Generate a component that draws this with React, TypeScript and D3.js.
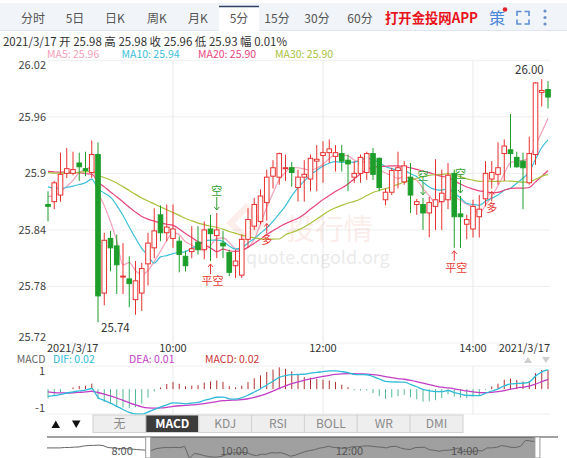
import React from "react";
import * as d3 from "d3";

// ---------- DATA ----------
const startHour = 8;
const startMinute = 20;
const stepMinutes = 5;

const opens = [
  25.867, 25.870, 25.877, 25.900, 25.900, 25.911, 25.905, 25.901, 25.920, 25.773,
  25.831, 25.823, 25.790, 25.788, 25.766, 25.773, 25.804, 25.821, 25.856, 25.837,
  25.831, 25.828, 25.812, 25.817, 25.827, 25.819, 25.841, 25.834, 25.826, 25.816,
  25.802, 25.792, 25.830, 25.844, 25.849, 25.869, 25.897, 25.896, 25.905, 25.906,
  25.885, 25.896, 25.894, 25.913, 25.919, 25.922, 25.918, 25.921, 25.914, 25.896,
  25.900, 25.901, 25.921, 25.916, 25.872, 25.880, 25.903, 25.891, 25.896, 25.867,
  25.867, 25.858, 25.865, 25.870, 25.872, 25.900, 25.857, 25.846, 25.841, 25.854,
  25.873, 25.894, 25.899, 25.921, 25.925, 25.917, 25.913, 25.890, 25.920, 25.986,
  25.989,
];
const highs = [
  25.881, 25.892, 25.922, 25.927, 25.923, 25.922, 25.923, 25.935, 25.933, 25.837,
  25.839, 25.835, 25.826, 25.812, 25.807, 25.805, 25.837, 25.863, 25.866, 25.867,
  25.867, 25.833, 25.818, 25.844, 25.844, 25.849, 25.856, 25.858, 25.839, 25.819,
  25.819, 25.835, 25.863, 25.874, 25.883, 25.904, 25.914, 25.922, 25.920, 25.912,
  25.904, 25.914, 25.920, 25.930, 25.934, 25.936, 25.930, 25.930, 25.920, 25.913,
  25.920, 25.923, 25.927, 25.917, 25.884, 25.906, 25.923, 25.913, 25.911, 25.873,
  25.874, 25.875, 25.915, 25.904, 25.911, 25.904, 25.876, 25.856, 25.872, 25.877,
  25.913, 25.913, 25.933, 25.936, 25.963, 25.923, 25.922, 25.939, 25.997, 26.000,
  25.998,
];
const lows = [
  25.849, 25.862, 25.870, 25.895, 25.898, 25.892, 25.897, 25.895, 25.742, 25.760,
  25.796, 25.772, 25.772, 25.758, 25.750, 25.754, 25.781, 25.810, 25.828, 25.828,
  25.821, 25.795, 25.796, 25.810, 25.814, 25.809, 25.807, 25.810, 25.810, 25.791,
  25.789, 25.789, 25.821, 25.840, 25.846, 25.850, 25.884, 25.888, 25.892, 25.886,
  25.870, 25.870, 25.881, 25.881, 25.890, 25.911, 25.902, 25.902, 25.881, 25.890,
  25.890, 25.893, 25.893, 25.881, 25.866, 25.877, 25.884, 25.888, 25.858, 25.856,
  25.840, 25.832, 25.840, 25.840, 25.862, 25.821, 25.821, 25.830, 25.832, 25.832,
  25.865, 25.884, 25.888, 25.892, 25.906, 25.906, 25.862, 25.888, 25.909, 25.971,
  25.969,
];
const closes = [
  25.865, 25.890, 25.899, 25.905, 25.904, 25.907, 25.903, 25.920, 25.770, 25.829,
  25.821, 25.803, 25.791, 25.783, 25.786, 25.799, 25.826, 25.839, 25.837, 25.843,
  25.841, 25.814, 25.802, 25.820, 25.819, 25.840, 25.836, 25.840, 25.823, 25.795,
  25.807, 25.830, 25.851, 25.867, 25.876, 25.896, 25.906, 25.921, 25.906, 25.901,
  25.896, 25.899, 25.916, 25.915, 25.922, 25.926, 25.922, 25.913, 25.910, 25.900,
  25.917, 25.921, 25.899, 25.885, 25.880, 25.903, 25.906, 25.908, 25.877, 25.870,
  25.858, 25.869, 25.872, 25.879, 25.898, 25.854, 25.854, 25.851, 25.865, 25.862,
  25.900, 25.901, 25.906, 25.929, 25.921, 25.907, 25.906, 25.921, 25.996, 25.988,
  25.981,
];
// closes before the visible window (used for MA / MACD warm-up and the navigator)
const prevCloses = [
  25.900, 25.905, 25.900, 25.895, 25.890, 25.892, 25.898, 25.900, 25.900, 25.900,
  25.900, 25.905, 25.905, 25.910, 25.912, 25.925, 25.930, 25.932, 25.935, 25.930,
  25.905, 25.900, 25.895, 25.890, 25.890, 25.885, 25.880, 25.875, 25.872,
];

const priceTicks = [26.02, 25.96, 25.9, 25.84, 25.78, 25.72];
const timeTicks = ["10:00", "12:00", "14:00"];
const navTicks = ["8:00", "10:00", "12:00", "14:00"];
const dateLabel = "2021/3/17";
const infoText = "2021/3/17 开 25.98 高 25.98 收 25.96 低 25.93 幅 0.01%";
const topTabs = ["分时", "5日", "日K", "周K", "月K", "5分", "15分", "30分", "60分"];
const selectedTopTab = "5分";
const indicatorTabs = ["无", "MACD", "KDJ", "RSI", "BOLL", "WR", "DMI"];
const selectedIndicator = "MACD";
const maPeriods = [5, 10, 20, 30];
const maLegendValues = ["25.96", "25.94", "25.90", "25.90"];
const macdLegendNames = ["DIF", "DEA", "MACD"];
const macdLegendValues = ["0.02", "0.01", "0.02"];
const macdTickValues = [0.0222, -0.0222];
const macdTickLabels = ["1", "-1"];
const signalIndex = [27, 26, 35, 60, 66, 65, 71];
const signalText = ["空", "平空", "多", "空", "空", "平空", "多"];

// ---------- STYLE ----------
const FONT = "'Noto Sans CJK SC', 'Noto Sans', sans-serif";
const UP = "#e8302e";
const DOWN = "#1d9e2a";
const MA_COLORS = ["#f4a0b8", "#3cc0d8", "#e8457e", "#a9c23c"];
const MACD_COLORS = ["#2fbad8", "#c23ec6", "#cc3333"];

function indexOfTime(t: string) {
  const [h, m] = t.split(":").map(Number);
  return (h * 60 + m - (startHour * 60 + startMinute)) / stepMinutes;
}

export default function App() {
  const W = 567, H = 458;
  const n = closes.length;
  const off = prevCloses.length;
  const all = prevCloses.concat(closes);

  const plotL = 48, plotR = 550;
  const x = d3.scaleLinear().domain([0, n - 1]).range([48, 548]);
  const y = d3.scaleLinear().domain([25.72, 26.02]).range([343, 60.3]);
  const mainTop = 60.3, mainBot = 343;
  const macdTop = 366, macdBot = 414;

  // moving averages
  const mas = maPeriods.map((p) =>
    closes.map((_, i) => d3.mean(all.slice(off + i - p + 1, off + i + 1)) as number)
  );
  const maLine = d3
    .line<number>()
    .x((_, i) => x(i))
    .y((v) => y(v))
    .curve(d3.curveMonotoneX);

  // MACD
  const dif: number[] = [];
  const dea: number[] = [];
  const hist: number[] = [];
  {
    let e12 = all[0], e26 = all[0], d = 0;
    all.forEach((c, i) => {
      e12 = e12 + (2 / 13) * (c - e12);
      e26 = e26 + (2 / 27) * (c - e26);
      const df = e12 - e26;
      d = d + (2 / 10) * (df - d);
      if (i >= off) {
        dif.push(df);
        dea.push(d);
        hist.push(2 * (df - d));
      }
    });
  }
  const my = d3.scaleLinear().domain([-0.0222, 0.0222]).range([408.3, 370]);
  const macdLine = d3
    .line<number>()
    .x((_, i) => x(i))
    .y((v) => my(v))
    .curve(d3.curveMonotoneX);

  // navigator
  const ovX = d3.scaleLinear().domain([0, n - 1]).range([151, 151 + (n - 1) * 4.8]);
  const ovY = d3.scaleLinear().domain([25.76, 26.0]).range([459, 440]);
  const ovLine = d3
    .line<number>()
    .x((_, i) => ovX(i - off))
    .y((v) => ovY(v));
  const selL = ovX(-0.5) - 0.4, selR = ovX(n - 0.5);

  const kMax = d3.maxIndex(highs);
  const kMin = d3.minIndex(lows);
  const bw = 4.6;

  const topTabX = [33, 75, 115, 157, 198, 239, 277, 317, 360];
  const indL = 93, indR = 463, indTop = 415, indBot = 432.5;
  const indW = (indR - indL) / indicatorTabs.length;

  return (
    <div style={{ position: "fixed", left: 0, top: 0, width: W, height: H, background: "#fff" }}>
      <svg width={W} height={H} style={{ display: "block", fontFamily: FONT }}>
        <defs>
          <clipPath id="navclip">
            <rect x={47} y={437} width={511} height={22} />
          </clipPath>
        </defs>
        {/* top tab bar */}
        <rect x={0} y={3} width={W} height={27} fill="#f1f4f8" />
        <line x1={0} x2={W} y1={30.5} y2={30.5} stroke="#e2e6ec" />
        {topTabs.map((t, i) =>
          t === selectedTopTab ? (
            <g key={t}>
              <rect x={topTabX[i] - 20} y={6} width={40} height={25} fill="#fff" />
              <line x1={topTabX[i] - 20} x2={topTabX[i] + 20} y1={6.5} y2={6.5} stroke="#2d3f63" strokeWidth={1.5} />
            </g>
          ) : null
        )}
        {topTabs.map((t, i) => (
          <text key={t} x={topTabX[i]} y={22.5} textAnchor="middle" fontSize={12} fill="#555">
            {t}
          </text>
        ))}
        <text x={385} y={23} fontSize={14} fontWeight="bold" fill="#e8141c" textLength={93} lengthAdjust="spacingAndGlyphs">
          打开金投网APP
        </text>
        <text x={497} y={24} textAnchor="middle" fontSize={16} fill="#4a86d8">策</text>
        <circle cx={505} cy={9.5} r={2.3} fill="#e0242c" />
        <g stroke="#5d8fd8" strokeWidth={1.6} fill="none">
          <path d="M517,16 V11.5 H521.5" />
          <path d="M524.5,11.5 H529 V16" />
          <path d="M529,19.5 V24 H524.5" />
          <path d="M521.5,24 H517 V19.5" />
        </g>
        {[11, 17.5, 24].map((cy) => (
          <circle key={cy} cx={545} cy={cy} r={1.6} fill="#6d90c8" />
        ))}

        {/* info line */}
        <text x={3} y={45.5} fontSize={11.5} fill="#333" textLength={284} lengthAdjust="spacingAndGlyphs">
          {infoText}
        </text>
        {maPeriods.map((p, i) => (
          <text key={p} x={[47, 121.5, 198, 275][i]} y={57.5} fontSize={10.5} fill={MA_COLORS[i]}>
            {`MA${p}: ${maLegendValues[i]}`}
          </text>
        ))}

        {/* grid */}
        {priceTicks.map((p) => (
          <line key={p} x1={plotL} x2={plotR} y1={y(p)} y2={y(p)} stroke="#eeeeee" />
        ))}
        {timeTicks.map((t) => (
          <g key={t}>
            <line x1={x(indexOfTime(t))} x2={x(indexOfTime(t))} y1={mainTop} y2={mainBot} stroke="#e8e8e8" />
            <line x1={x(indexOfTime(t))} x2={x(indexOfTime(t))} y1={macdTop} y2={macdBot} stroke="#e8e8e8" />
          </g>
        ))}
        <line x1={plotL} x2={plotR} y1={macdTop} y2={macdTop} stroke="#eeeeee" />
        <line x1={plotL} x2={plotR} y1={macdBot} y2={macdBot} stroke="#eeeeee" />

        {/* watermark */}
        <g opacity={0.1}>
          <path d="M246,203 L266,223 L246,243 L226,223 Z M246,212 L257,223 L246,234 L235,223 Z" fill="#d4553a" fillRule="evenodd" />
          <text x={286} y={240} fontSize={29} fill="#d4553a">投行情</text>
        </g>
        <text x={246} y={264} fontSize={18} fill="#000" opacity={0.08}>quote.cngold.org</text>

        {/* price labels */}
        {priceTicks.map((p, i) => (
          <text
            key={p}
            x={46}
            y={y(p) + (i === 0 ? 9 : i === priceTicks.length - 1 ? -2 : 4)}
            textAnchor="end"
            fontSize={11}
            fill="#444"
          >
            {String(p)}
          </text>
        ))}

        {/* MA lines */}
        {mas.map((m, i) => (
          <path key={i} d={maLine(m) || ""} fill="none" stroke={MA_COLORS[i]} strokeWidth={1.2} />
        ))}

        {/* candles */}
        {closes.map((c, k) => {
          const o = opens[k];
          const up = c >= o;
          const col = up ? UP : DOWN;
          const top = y(Math.max(o, c));
          const bot = y(Math.min(o, c));
          const h = Math.max(bot - top, 1);
          return (
            <g key={k}>
              <line x1={x(k)} x2={x(k)} y1={y(highs[k])} y2={y(lows[k])} stroke={col} strokeWidth={1} />
              <rect
                x={x(k) - bw / 2}
                y={top}
                width={bw}
                height={h}
                fill={up ? "#fff" : col}
                stroke={col}
                strokeWidth={1}
              />
            </g>
          );
        })}

        {/* signals */}
        {signalIndex.map((k, i) => {
          const t = signalText[i];
          const down = t === "空";
          const col = down ? "#33a033" : "#e53935";
          const cx = x(k);
          if (down) {
            const hy = y(highs[k]);
            return (
              <g key={i}>
                <line x1={cx} x2={cx} y1={hy - 16} y2={hy - 3} stroke={col} />
                <path d={`M${cx - 2.5},${hy - 6} L${cx},${hy - 3} L${cx + 2.5},${hy - 6}`} fill="none" stroke={col} />
                <text x={cx} y={hy - 18} textAnchor="middle" fontSize={11} fill={col}>{t}</text>
              </g>
            );
          }
          const ly = y(lows[k]);
          return (
            <g key={i}>
              <line x1={cx} x2={cx} y1={ly + 3} y2={ly + 13} stroke={col} />
              <path d={`M${cx - 2.5},${ly + 6} L${cx},${ly + 3} L${cx + 2.5},${ly + 6}`} fill="none" stroke={col} />
              <text x={cx + (t.length > 1 ? 2 : 0)} y={ly + 24} textAnchor="middle" fontSize={11} fill={col}>{t}</text>
            </g>
          );
        })}

        {/* extreme labels */}
        <text x={x(kMax) + 2} y={y(highs[kMax]) - 5} textAnchor="end" fontSize={11.5} fill="#333">
          {highs[kMax].toFixed(2)}
        </text>
        <text x={x(kMin) + 3} y={y(lows[kMin]) + 10} textAnchor="start" fontSize={11.5} fill="#333">
          {lows[kMin].toFixed(2)}
        </text>

        {/* time labels */}
        <text x={47} y={352} fontSize={11} fill="#333">{dateLabel}</text>
        {timeTicks.map((t) => (
          <text key={t} x={x(indexOfTime(t))} y={352} textAnchor="middle" fontSize={11} fill="#333">{t}</text>
        ))}
        <text x={550} y={352} textAnchor="end" fontSize={11} fill="#333">{dateLabel}</text>

        {/* MACD legend */}
        <text x={16.7} y={363} fontSize={10.5} fill="#666">MACD</text>
        {macdLegendNames.map((nm, i) => (
          <text key={nm} x={[53, 129, 205][i]} y={363} fontSize={10.5} fill={MACD_COLORS[i]}>
            {`${nm}: ${macdLegendValues[i]}`}
          </text>
        ))}
        <path d="M524,363 L528,357 L532,363 Z" fill="#cfcfcf" />
        <path d="M542,357 L550,357 L546,363 Z" fill="#cfcfcf" />
        {macdTickValues.map((v, i) => (
          <text key={v} x={45} y={my(v) + (i === 0 ? 4.8 : 4)} textAnchor="end" fontSize={11} fill="#444">{macdTickLabels[i]}</text>
        ))}

        {/* MACD histogram */}
        {hist.map((v, k) => (
          <line
            key={k}
            x1={x(k)}
            x2={x(k)}
            y1={my(0)}
            y2={my(v)}
            stroke={v >= 0 ? "#b03030" : "#55b898"}
            strokeWidth={1}
          />
        ))}
        <path d={macdLine(dea) || ""} fill="none" stroke={MACD_COLORS[1]} strokeWidth={1.3} />
        <path d={macdLine(dif) || ""} fill="none" stroke={MACD_COLORS[0]} strokeWidth={1.3} />

        {/* indicator tabs */}
        <path d="M51.5,428 L55.8,420.5 L60,428 Z" fill="#111" />
        <path d="M72,420.5 L80.5,420.5 L76.2,428 Z" fill="#111" />
        {indicatorTabs.map((t, i) => {
          const sel = t === selectedIndicator;
          return (
            <g key={t}>
              <rect
                x={indL + i * indW}
                y={indTop}
                width={indW}
                height={indBot - indTop}
                fill={sel ? "#3c3c3c" : "#eeeeee"}
                stroke="#d2d2d2"
              />
              <text
                x={indL + i * indW + indW / 2}
                y={428}
                textAnchor="middle"
                fontSize={12}
                fill={sel ? "#fff" : "#8a8a8a"}
                fontWeight={sel ? "bold" : "normal"}
              >
                {t}
              </text>
            </g>
          );
        })}

        {/* navigator */}
        <rect x={selL} y={437} width={selR - selL} height={22} fill="#a0a0a0" />
        <g clipPath="url(#navclip)">
          <path d={ovLine(all) || ""} fill="none" stroke="#666" strokeWidth={1} />
        </g>
        <line x1={47} x2={558} y1={437} y2={437} stroke="#444" strokeWidth={1.2} />
        {navTicks.map((t) => (
          <text key={t} x={ovX(indexOfTime(t)) + 1} y={455} textAnchor="end" fontSize={11} fill="#555">
            {t}
          </text>
        ))}
        <rect x={selL - 2.5} y={437} width={5} height={21} fill="#fff" stroke="#9a9a9a" />
        <rect x={selR - 2.5} y={437} width={5} height={21} fill="#fff" stroke="#9a9a9a" />
      </svg>
    </div>
  );
}
